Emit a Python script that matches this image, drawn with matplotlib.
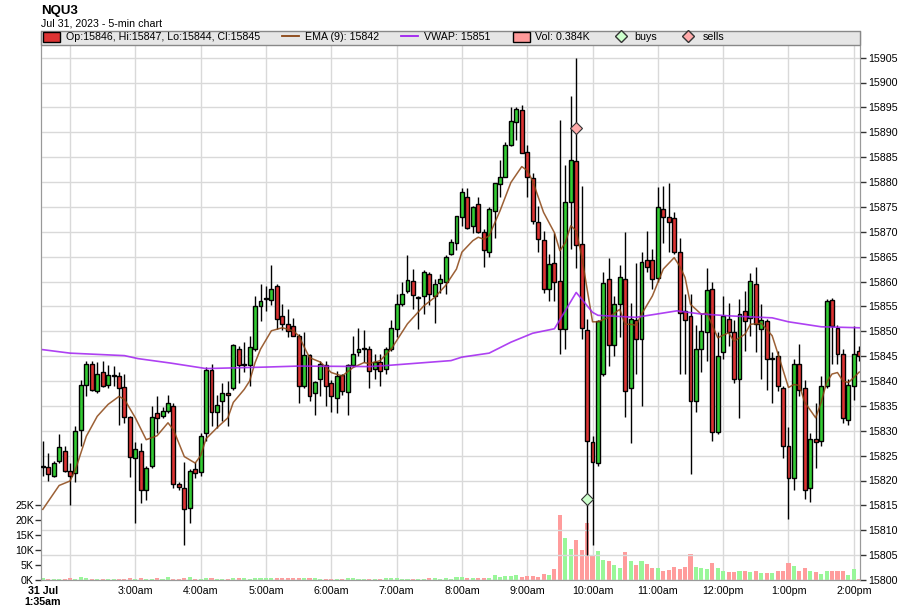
import matplotlib.pyplot as plt
from matplotlib.lines import Line2D
from matplotlib.patches import Patch, Rectangle

plt.rcParams['font.family'] = ['Liberation Sans', 'DejaVu Sans']

# 5-min bars, 31 Jul 2023, 1:35am .. 2:05pm (bar index = position on x axis)
opens = [
    15822.75, 15822.75, 15821, 15824, 15826, 15822, 15821.5, 15830.25, 15839.25, 15843.5,
    15838, 15841.75, 15839.25, 15841, 15841, 15838.75, 15832.75, 15824.5, 15826, 15818,
    15823, 15833.5, 15833, 15834, 15835, 15819.25, 15818.5, 15814.5, 15822.25, 15821.75,
    15829.5, 15842.25, 15833.75, 15836, 15837.5, 15838.5, 15846.5, 15843.25, 15843.25, 15846.5,
    15855, 15856.5, 15856.25, 15859, 15853, 15851.5, 15851, 15849, 15839, 15845.25,
    15837.5, 15840.5, 15843.25, 15839.5, 15836.5, 15841.25, 15837.75, 15843.25, 15845.75, 15846.5,
    15846.5, 15842.5, 15843.75, 15842.5, 15846.5, 15850.5, 15855.5, 15858, 15860, 15856.75,
    15857, 15861.5, 15857, 15859.75, 15860, 15865.5, 15867.75, 15873, 15877, 15871.25,
    15875.5, 15870, 15866, 15874.25, 15879.5, 15881, 15887.5, 15892, 15894.5, 15886,
    15880.75, 15872, 15868.25, 15858.5, 15863.75, 15860, 15850.5, 15876, 15884.25, 15867.5,
    15850.25, 15827.75, 15823.5, 15841.5, 15860.5, 15847.25, 15855.5, 15860.5, 15838.5, 15852.25,
    15848.5, 15864.25, 15864.25, 15860.75, 15874.5, 15873, 15872.75, 15866, 15854, 15853,
    15836, 15846.5, 15849.75, 15858.5, 15829.75, 15845.75, 15852.5, 15849.75, 15840.5, 15854,
    15852.75, 15859.5, 15850.5, 15852, 15844.5, 15845, 15838.5, 15827, 15820.5, 15843.5,
    15838.5, 15818.5, 15828.25, 15828, 15839, 15856.25, 15850.75, 15845.5, 15832.25, 15839,
    15846,
]
highs = [
    15828, 15825.5, 15824, 15829.25, 15827, 15823.5, 15831, 15840.25, 15844, 15844,
    15843.75, 15844, 15843.25, 15843, 15841.75, 15841.5, 15833, 15827.75, 15827.5, 15823,
    15835, 15837, 15834.75, 15837.25, 15835.5, 15819.75, 15823.75, 15822.25, 15823.75, 15829.5,
    15842.75, 15843.5, 15837.25, 15839.5, 15840, 15847.5, 15847, 15847.75, 15849, 15857,
    15859.5, 15859, 15863.25, 15859.5, 15855.5, 15854.5, 15852.75, 15849.5, 15849.75, 15845.5,
    15840, 15844, 15844, 15840.25, 15842, 15841.5, 15843.5, 15849, 15850.75, 15850.25,
    15847, 15845.5, 15845.5, 15846.75, 15852.25, 15857.5, 15860, 15865.25, 15862.5, 15857,
    15862.25, 15862, 15860.5, 15861.5, 15865.25, 15868.5, 15873.25, 15878.75, 15878.75, 15875.25,
    15877, 15870.5, 15875, 15879.75, 15884.5, 15888, 15895, 15895, 15895.5, 15887.5,
    15881.75, 15875.25, 15870.25, 15865.5, 15869.75, 15892.5, 15883.5, 15897.25, 15905, 15879.25,
    15852.5, 15829, 15852.25, 15862, 15864.75, 15857, 15863.25, 15870, 15855.75, 15863.75,
    15866, 15870.25, 15866.5, 15879, 15879.25, 15879.75, 15874, 15868.75, 15857.5, 15857.5,
    15851.25, 15853.75, 15862.75, 15860, 15849.75, 15857, 15855.75, 15852.25, 15856.5, 15858,
    15861.75, 15863, 15855.5, 15852.5, 15845.75, 15846, 15839, 15830.75, 15844.5, 15847.5,
    15840.25, 15829.5, 15835.5, 15841, 15856.5, 15856.75, 15851.25, 15846.5, 15840.5, 15851,
    15847,
]
lows = [
    15821, 15820, 15820.75, 15823.5, 15821.75, 15815, 15819.75, 15827, 15837, 15838,
    15837.5, 15838.75, 15838.5, 15839, 15831.25, 15831.5, 15820.75, 15811.5, 15815.5, 15816,
    15822.5, 15829.5, 15832.5, 15833.5, 15818.5, 15818, 15807, 15811.5, 15820.5, 15821,
    15828, 15831, 15830.5, 15832, 15831, 15838.25, 15839.5, 15841.75, 15839, 15846,
    15852, 15854, 15855.25, 15850.5, 15850.25, 15848.75, 15849, 15835.5, 15838.5, 15836,
    15833.25, 15837, 15835, 15833.75, 15833.5, 15837.25, 15833.25, 15842.75, 15845, 15843.75,
    15838.5, 15840.5, 15839, 15841.5, 15846, 15848.75, 15855, 15857.75, 15854.5, 15850.5,
    15853.5, 15855.25, 15851.75, 15857.75, 15857.5, 15865.25, 15866.25, 15871.25, 15870.5, 15869.75,
    15869.75, 15863, 15865, 15868.75, 15877, 15881, 15887.25, 15888.5, 15885.75, 15877,
    15871.5, 15866, 15857.75, 15856, 15856, 15845.5, 15846.5, 15866.5, 15862.75, 15848.5,
    15805, 15807, 15823, 15841, 15843, 15845, 15848.75, 15832.75, 15827.5, 15841.5,
    15835, 15862, 15858.5, 15860, 15867.75, 15866, 15865.5, 15841.5, 15841.5, 15821.25,
    15833.75, 15841.75, 15844, 15828, 15829.25, 15844.5, 15847, 15839.5, 15832.5, 15846,
    15849, 15845.75, 15840.5, 15838.25, 15835.5, 15838, 15824.5, 15812.25, 15818, 15837,
    15816.25, 15815.75, 15822.5, 15827, 15838.5, 15843.5, 15843.5, 15831.5, 15831.25, 15836.25,
    15844,
]
closes = [
    15823, 15821.25, 15823.5, 15826.75, 15822, 15821, 15830, 15839.25, 15843.5, 15838.25,
    15841.5, 15839, 15841.25, 15841.25, 15838.5, 15832.75, 15824.75, 15826.25, 15818, 15822.5,
    15832.75, 15832.5, 15834, 15835.5, 15819.25, 15818.75, 15814.25, 15822, 15821.5, 15829,
    15842.25, 15833.75, 15835.25, 15837.5, 15837.25, 15847.25, 15843.25, 15843.25, 15846.75, 15855,
    15856, 15856.5, 15858.5, 15852.5, 15851.5, 15850, 15849, 15839, 15845.25, 15837,
    15839.75, 15843.5, 15839, 15837, 15841, 15838, 15843.25, 15845.5, 15846.5, 15846.5,
    15842, 15843.75, 15842, 15846.5, 15850.75, 15855.5, 15857.5, 15860.25, 15857.25, 15856.75,
    15862, 15857.5, 15859.5, 15860.5, 15865, 15868, 15873.25, 15878, 15870.75, 15875,
    15870, 15866.25, 15874.5, 15879.75, 15881, 15887.5, 15892.25, 15894.75, 15885.75, 15881,
    15872.25, 15868.5, 15858.5, 15863.5, 15860, 15850.5, 15876, 15884.5, 15867.25, 15850.75,
    15828, 15823.75, 15852, 15859.75, 15847.25, 15855.5, 15861, 15838, 15852.5, 15848.5,
    15864, 15863, 15860.5, 15875, 15873, 15872, 15866, 15853.75, 15852.25, 15836,
    15846.5, 15850, 15858.25, 15829.75, 15845, 15853, 15849.75, 15840.5, 15853.5, 15852,
    15860, 15851.5, 15852.25, 15844.5, 15844.5, 15839, 15827, 15820.5, 15843.5, 15838.25,
    15818, 15828.25, 15827.75, 15839, 15856, 15851, 15845.5, 15832.5, 15839.25, 15845.5,
    15845,
]
volumes_k = [
    0.7, 0.3, 0.2, 0.4, 0.4, 0.8, 0.4, 1.0, 0.7, 0.4,
    0.4, 0.4, 0.3, 0.3, 0.3, 0.2, 0.5, 0.4, 0.5, 0.3,
    0.4, 0.7, 0.4, 1.0, 0.4, 0.3, 0.6, 1.0, 0.4, 0.4,
    0.6, 0.5, 0.3, 0.3, 0.3, 0.6, 0.5, 0.5, 0.3, 0.7,
    0.5, 0.5, 0.6, 0.6, 0.5, 0.5, 0.5, 0.8, 0.7, 0.5,
    0.7, 0.4, 0.4, 0.4, 0.4, 0.4, 0.5, 0.7, 0.4, 0.3,
    0.4, 0.3, 0.4, 0.7, 0.7, 0.7, 0.4, 0.4, 0.4, 0.3,
    0.4, 0.55, 0.66, 0.33, 0.66, 0.44, 1.1, 1.0, 0.66, 0.66,
    0.66, 0.66, 0.66, 1.66, 1.1, 1.33, 1.33, 1.66, 1.1, 1.33,
    1.33, 1.0, 2.0, 1.66, 3.7, 21.6, 13.8, 10.3, 13.3, 10.0,
    18.8, 8.3, 9.6, 6.6, 6.3, 5.0, 4.1, 9.4, 6.3, 5.0,
    6.3, 5.3, 3.9, 3.9, 3.0, 3.3, 4.4, 3.7, 4.4, 8.6,
    4.2, 4.0, 3.7, 5.8, 3.9, 3.1, 2.7, 2.7, 3.1, 3.0,
    2.7, 3.0, 2.2, 2.4, 2.2, 2.9, 3.1, 5.5, 4.7, 3.0,
    3.9, 3.1, 2.7, 2.0, 3.1, 3.0, 3.1, 3.0, 1.7, 3.5,
    0.384,
]

# EMA(9) and VWAP at these bar indices
ema_idx = [0, 3, 5, 6, 8, 10, 12, 14, 15, 17, 19, 21, 23, 24, 26, 28, 29, 30, 32, 34,
           35, 37, 38, 39, 40, 42, 44, 46, 47, 49, 51, 53, 55, 57, 59, 60, 62, 64, 67, 70,
           72, 74, 76, 77, 79, 80, 81, 82, 84, 86, 88, 89, 90, 92, 94, 95, 96, 97, 98, 99,
           100, 101, 102, 104, 106, 107, 108, 109, 110, 112, 113, 114, 116, 117, 118, 119, 121, 122, 124, 126,
           127, 129, 130, 132, 134, 135, 137, 138, 139, 140, 142, 143, 144, 145, 146, 147, 148, 149, 150]
ema_vals = [15814.2, 15819, 15819.9, 15822.2, 15828.9, 15832.9, 15835.3, 15836.9, 15836.3, 15832.6,
            15828.2, 15829, 15831.6, 15830.2, 15824.8, 15823.5, 15825, 15828.4, 15830.6, 15832.6,
            15835.7, 15838.3, 15840, 15843.7, 15846.4, 15850.1, 15850.7, 15850.1, 15849.1, 15844.7,
            15843.8, 15841.7, 15841, 15842.7, 15843.7, 15843.5, 15844.1, 15846.4, 15851.5, 15855.1,
            15856.8, 15859.2, 15862.5, 15865.9, 15868.2, 15868.9, 15868.5, 15869.2, 15874.2, 15879.9,
            15883.1, 15882.3, 15880.2, 15873.9, 15869.8, 15866.2, 15867.8, 15871.2, 15870.2, 15865.1,
            15858.5, 15851.9, 15851.9, 15852.8, 15854.4, 15851.4, 15851.4, 15851.2, 15853.4, 15857.1,
            15859.8, 15862.5, 15864.8, 15863.1, 15860.8, 15855.4, 15853.4, 15853.7, 15848.7, 15849.7,
            15848, 15849.4, 15851.4, 15851.6, 15849.1, 15845.7, 15838.7, 15839.3, 15839.1, 15835.7,
            15832.6, 15835.7, 15839.7, 15841.4, 15841.7, 15840, 15839.7, 15840.7, 15841.8]
vwap_idx = [0, 5, 15, 17.5, 23.5, 30, 41, 47, 60, 63, 75, 77, 82, 86, 90, 94, 98, 101,
            102, 109, 116.5, 120.7, 126, 134, 137, 143, 150]
vwap_vals = [15846.3, 15845.6, 15845.1, 15844.5, 15843.6, 15842.5, 15842.8, 15843, 15842.9, 15843.1,
             15844.1, 15844.8, 15845.6, 15847.8, 15849.6, 15850.5, 15857.8, 15853.8, 15853.2, 15852.8,
             15854.1, 15853.5, 15853.1, 15852.7, 15851.9, 15850.9, 15850.7]

buy_idx = [100]
buy_px = [15816.3]
sell_idx = [98]
sell_px = [15890.9]

hour_ticks = [5, 17, 29, 41, 53, 65, 77, 89, 101, 113, 125, 137, 149]
hour_labels = ['', '3:00am', '4:00am', '5:00am', '6:00am', '7:00am', '8:00am', '9:00am',
               '10:00am', '11:00am', '12:00pm', '1:00pm', '2:00pm']
price_ticks = list(range(15800, 15906, 5))
vol_ticks = [0, 5, 10, 15, 20, 25]

UP = '#33cc33'
DOWN = '#dd3333'
VOL_UP = '#99f799'
VOL_DOWN = '#ff9c9c'
GRID = '#d9d9d9'
FS = 7.7

fig = plt.figure(figsize=(9, 6.16), dpi=100)
ax_vol = fig.add_axes([41 / 900, 36 / 616, 819 / 900, 549 / 616])
ax = ax_vol.twinx()

x = list(range(len(opens)))
up = [c >= o for o, c in zip(opens, closes)]

# volume (left axis, behind the candles)
ax_vol.bar(x, volumes_k, width=0.75, color=[VOL_UP if u else VOL_DOWN for u in up],
           linewidth=0, zorder=2)
for t in hour_ticks:
    ax_vol.axvline(t, color=GRID, lw=1, zorder=1)
ax_vol.set_ylim(0, 549 / 3.01)
ax_vol.set_yticks(vol_ticks)
ax_vol.set_yticklabels([f'{v}K' for v in vol_ticks])

# candles (right axis)
body_lo = [min(o, c) for o, c in zip(opens, closes)]
body_h = [max(abs(c - o), 0.12) for o, c in zip(opens, closes)]
ax.vlines(x, lows, highs, color='black', lw=1, zorder=3)
ax.bar(x, body_h, bottom=body_lo, width=0.72, color=[UP if u else DOWN for u in up],
       edgecolor='black', linewidth=1, zorder=4)
ax.plot(ema_idx, ema_vals, color='#8b4513', lw=1.1, alpha=0.85, zorder=5)
ax.plot(vwap_idx, vwap_vals, color='#a020f0', lw=1.2, alpha=0.85, zorder=5)
ax.plot(buy_idx, buy_px, 'D', ms=6.5, mfc='#ccffcc', mec='#333333', mew=0.8, zorder=6)
ax.plot(sell_idx, sell_px, 'D', ms=6.5, mfc='#ffaaaa', mec='#333333', mew=0.8, zorder=6)

ax.set_ylim(15800, 15800 + 549 / 4.975)
ax.set_yticks(price_ticks)
ax.grid(axis='y', color=GRID, lw=1)
ax.set_axisbelow(True)
ax.set_xlim(-0.33, 150.14)

ax_vol.set_xticks([0] + hour_ticks)
ax_vol.set_xticklabels(['31 Jul\n1:35am'] + hour_labels)
ax_vol.get_xticklabels()[0].set_fontweight('bold')
ax_vol.tick_params(axis='x', length=0, pad=4, labelsize=FS)
ax_vol.tick_params(axis='y', length=4, width=1, color='#333333', labelsize=FS, pad=1)
ax.tick_params(axis='y', length=4, width=1, color='#333333', labelsize=FS, pad=2)

for a in (ax, ax_vol):
    for s in a.spines.values():
        s.set_color('#999999')
    a.spines['top'].set_visible(False)

# legend strip across the top of the plot
ax.add_patch(Rectangle((0, 1 - 14 / 549), 1, 14 / 549, transform=ax.transAxes,
                       facecolor='#e6e6e6', edgecolor='#888888', lw=1, zorder=10,
                       clip_on=False))
handles = [
    Patch(facecolor=DOWN, edgecolor='black'),
    Line2D([], [], color='#8b4513', lw=1.3),
    Line2D([], [], color='#a020f0', lw=1.3),
    Patch(facecolor='#ff9999', edgecolor='black'),
    Line2D([], [], marker='D', ls='', ms=6, mfc='#ccffcc', mec='#333333'),
    Line2D([], [], marker='D', ls='', ms=6, mfc='#ffaaaa', mec='#333333'),
]
labels = [
    f'Op:{opens[-1]:.0f}, Hi:{highs[-1]:.0f}, Lo:{lows[-1]:.0f}, Cl:{closes[-1]:.0f}',
    f'EMA (9): {ema_vals[-1]:.0f}',
    f'VWAP: {vwap_vals[-1]:.0f}',
    f'Vol: {volumes_k[-1]:.3f}K',
    'buys',
    'sells',
]
leg = ax.legend(handles, labels, loc='upper left', bbox_to_anchor=(0, 1.002), ncol=6,
                frameon=False, fontsize=FS, handlelength=1.6, handleheight=1.0,
                handletextpad=0.5, columnspacing=2.1, borderaxespad=0.1, borderpad=0.1)
leg.set_zorder(11)

fig.text(41 / 900, 1 - 11 / 616, 'NQU3', fontsize=9.5, fontweight='bold', va='center')
fig.text(41 / 900, 1 - 23.5 / 616, 'Jul 31, 2023 - 5-min chart', fontsize=FS, va='center')

fig.savefig('out.png', dpi=100)
